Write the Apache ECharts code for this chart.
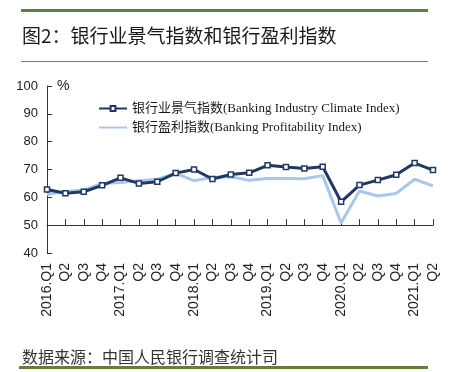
<!DOCTYPE html>
<html>
<head>
<meta charset="utf-8">
<script src="https://cdn.jsdelivr.net/npm/echarts@6/dist/echarts.min.js"></script>
<style>
html,body{margin:0;padding:0;background:#fff;}
#c{width:452px;height:372px;}
</style>
</head>
<body>
<div id="c"></div>
<script>
var categories = ['2016.Q1','2016.Q2','2016.Q3','2016.Q4','2017.Q1','2017.Q2','2017.Q3','2017.Q4','2018.Q1','2018.Q2','2018.Q3','2018.Q4','2019.Q1','2019.Q2','2019.Q3','2019.Q4','2020.Q1','2020.Q2','2020.Q3','2020.Q4','2021.Q1','2021.Q2'];
var climateIndex = [62.8,61.5,62.0,64.3,67.0,65.0,65.6,68.7,70.0,66.6,68.2,68.8,71.5,70.9,70.4,71.0,58.4,64.4,66.2,68.1,72.3,69.8];
var profitIndex = [61.0,62.1,62.6,65.0,65.3,66.0,66.5,68.6,66.0,67.1,67.4,66.1,66.8,66.8,66.7,67.8,50.8,62.3,60.5,61.4,66.5,64.1];
var yTicks = {min:40, max:100, step:10};
var seriesNames = ['银行业景气指数(Banking Industry Climate Index)','银行盈利指数(Banking Profitability Index)'];
var titleText = '图2：银行业景气指数和银行盈利指数';
var sourceText = '数据来源：中国人民银行调查统计司';

var gridTop = 86, gridH = 167, gridLeft = 47, gridW = 386;
var chart = echarts.init(document.getElementById('c'), null, {renderer:'canvas'});
var darkC = '#1F3864', lightC = '#A9C7EB';
chart.setOption({
  backgroundColor:'#fff',
  animation:false,
  grid:{left:gridLeft, top:gridTop, width:gridW, height:gridH},
  legend:{
    orient:'vertical', left:93, top:97, itemWidth:28, itemHeight:6, itemGap:6,
    data:[{name:seriesNames[0]}, {name:seriesNames[1], itemStyle:{opacity:0}}],
    textStyle:{fontSize:13, color:'#1a1a1a', fontFamily:"'Liberation Serif','Noto Sans CJK SC',serif"}
  },
  xAxis:{
    type:'category', boundaryGap:false, data:categories,
    offset: -gridH/6,
    axisLine:{lineStyle:{color:'#333', width:1}},
    axisTick:{inside:true, length:6, alignWithLabel:true, interval:0, lineStyle:{color:'#333'}},
    axisLabel:{
      interval:0, rotate:90, margin: gridH/6 + 10, fontSize:14, color:'#222',
      fontFamily:"'Liberation Sans',Arial,sans-serif",
      formatter:function(v){ return /Q1$/.test(v) ? v : v.split('.')[1]; }
    },
    splitLine:{show:false}
  },
  yAxis:{
    type:'value', min:yTicks.min, max:yTicks.max, interval:yTicks.step,
    axisLine:{show:true, lineStyle:{color:'#333', width:1}},
    axisTick:{show:true, inside:true, length:5, lineStyle:{color:'#333'}},
    axisLabel:{margin:9, fontSize:13, color:'#222', fontFamily:"'Liberation Sans',Arial,sans-serif"},
    splitLine:{show:false}
  },
  graphic:[
    {type:'rect', shape:{x:21, y:9, width:407, height:3}, style:{fill:'#5E7F3E'}},
    {type:'rect', shape:{x:21, y:61, width:407, height:1}, style:{fill:'#6E8A5C'}},
    {type:'rect', shape:{x:19, y:366, width:409, height:3}, style:{fill:'#5E7F3E'}},
    {type:'text', style:{x:22, y:36, text:titleText, fill:'#1a1a1a', font:"19px 'Noto Sans CJK SC'", verticalAlign:'middle'}},
    {type:'text', style:{x:22, y:357, text:sourceText, fill:'#333', font:"16px 'Noto Sans CJK SC'", verticalAlign:'middle'}},
    {type:'text', style:{x:57, y:86, text:'%', fill:'#222', font:"14px 'Liberation Sans'", verticalAlign:'middle'}}
  ],
  series:[
    {name:seriesNames[1], type:'line', data:profitIndex, symbol:'none', color:lightC,
      lineStyle:{color:lightC, width:3}, z:2},
    {name:seriesNames[0], type:'line', data:climateIndex, symbol:'rect', symbolSize:5, color:darkC,
      lineStyle:{color:darkC, width:3},
      itemStyle:{color:'#fff', borderColor:darkC, borderWidth:1.5}, z:3}
  ]
});
</script>
</body>
</html>
